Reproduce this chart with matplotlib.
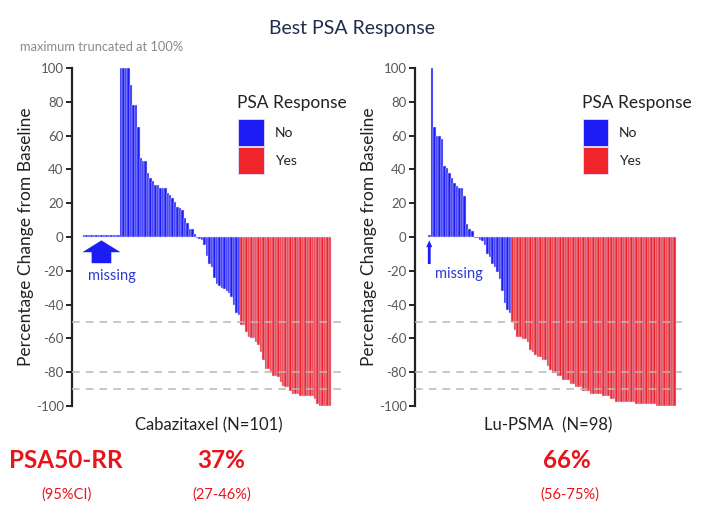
import numpy as np
from matplotlib import pyplot as plt
from matplotlib.patches import Rectangle

plt.rcParams['font.family'] = ['Lato', 'DejaVu Sans']
plt.rcParams['axes.unicode_minus'] = False

BLUE = '#1c1cf5'
RED = '#f0262a'
TICK_GREY = '#595959'
TXT_RED = '#e8141b'

# best PSA change (%) per patient, sorted as in the waterfall
cab_missing = [1.2] * 15
cab_no = [100, 100, 100, 100, 90, 78, 78, 65, 47, 45, 45, 38, 35, 33, 31, 30.5,
          29, 29, 29, 26, 25, 23, 21, 18, 17, 16, 11, 8, 5, 4.5, 2,
          -0.5, -1, -2, -5, -11, -16, -18, -24, -28, -29, -30, -31, -32, -33,
          -35.5, -40, -45, -46]
cab_yes = [-52, -52, -56, -59, -60, -60, -62, -64, -68, -73, -78, -78, -80,
           -82, -82, -83, -86, -88, -89, -89, -91, -93, -93, -93, -94, -94,
           -94, -94, -94, -94, -96, -99, -100, -100, -100, -100, -100]

lu_missing = [1.2]
lu_no = [100, 65, 60, 60, 58, 42, 41, 38, 35, 32, 30, 29, 29, 24, 7.5, 4.5, 3.5,
         -0.5, -0.5, -1.5, -2.5, -5, -10, -12, -16, -18, -21, -25, -32, -39,
         -43, -45]
lu_yes = ([-50.5, -55.3, -58.9, -58.9, -60.2, -60.2, -62, -67, -68, -70, -71,
           -71, -73, -73, -76.6, -78.6, -80.5, -80.5, -82, -82, -84.5, -84.5,
           -84.5, -86.9, -86.9, -89, -89, -89, -91.4, -91.4, -91.4]
          + [-92.8] * 5 + [-93.8] * 3 + [-95.8] * 2 + [-97.7] * 8
          + [-99] * 8 + [-100] * 8)

ref_lines = [-50, -80, -90]
yticks = list(range(-100, 101, 20))
legend_labels = ['No', 'Yes']

fig = plt.figure(figsize=(7.04, 5.14), dpi=100)


def waterfall(rect, missing, no, yes, xlim, xlabel, big_arrow, leg_x):
    ax = fig.add_axes(rect)
    vals = missing + no + yes
    cols = [BLUE] * (len(missing) + len(no)) + [RED] * len(yes)
    x = np.arange(len(vals))
    ax.bar(x, vals, width=1.0, color=cols, edgecolor='#dcdcff',
           linewidth=0.35, zorder=2)
    for v in ref_lines:
        ax.axhline(v, color='#b8b8b8', lw=1.1, ls=(0, (5, 4)), zorder=3)
    ax.set_xlim(*xlim)
    ax.set_ylim(-100, 100)
    ax.set_yticks(yticks)
    ax.set_xticks([])
    for s in ['top', 'right', 'bottom']:
        ax.spines[s].set_visible(False)
    ax.spines['left'].set_color('#222222')
    ax.spines['left'].set_linewidth(1.6)
    ax.tick_params(axis='y', direction='out', length=4, width=1.4,
                   color='#222222', labelcolor=TICK_GREY, labelsize=9.5, pad=2)
    ax.set_ylabel('Percentage Change from Baseline', fontsize=12.5,
                  color='#222222', labelpad=1)
    ax.set_xlabel(xlabel, fontsize=12, color='#222222', labelpad=8)

    # missing arrow
    mx = (len(missing) - 1) / 2.0
    if big_arrow:
        ax.arrow(mx, -15.5, 0, 13.5, width=8, head_width=15.5, head_length=7,
                 length_includes_head=True, color=BLUE, lw=0, zorder=4)
        ax.text(mx - 5.3, -23, 'missing', color='#2e3ad6', fontsize=10.5,
                ha='left', va='center')
    else:
        ax.arrow(mx, -16, 0, 14, width=1.1, head_width=2.4, head_length=4,
                 length_includes_head=True, color=BLUE, lw=0, zorder=4)
        ax.text(mx + 2.2, -22, 'missing', color='#2e3ad6', fontsize=10.5,
                ha='left', va='center')

    # legend block
    tr = ax.transAxes
    ax.text(leg_x - 0.004, 0.896, 'PSA Response', transform=tr, fontsize=12.5,
            color='#222222', ha='left', va='center')
    for i, (lab, c) in enumerate(zip(legend_labels, [BLUE, RED])):
        y0 = 0.769 - i * 0.083
        ax.add_patch(Rectangle((leg_x, y0), 0.096, 0.08, transform=tr,
                               facecolor=c, edgecolor='#e0e0ff', lw=0.6,
                               clip_on=False, zorder=5))
        ax.text(leg_x + 0.136, y0 + 0.04, lab, transform=tr, fontsize=10,
                color='#222222', ha='left', va='center')
    return ax


waterfall([0.1023, 0.2101, 0.388, 0.6576], cab_missing, cab_no, cab_yes,
          (-4.98, 106.2), 'Cabazitaxel (N=101)', True, 0.608)
waterfall([0.5895, 0.2101, 0.379, 0.6576], lu_missing, lu_no, lu_yes,
          (-5.64, 99.9), 'Lu-PSMA  (N=98)', False, 0.629)

fig.text(0.5, 0.944, 'Best PSA Response', ha='center', va='center',
         fontsize=14, color='#1f2d4d')
fig.text(0.029, 0.909, 'maximum truncated at 100%', ha='left', va='center',
         fontsize=9.3, color='#8a8a8a')

fig.text(0.093, 0.105, 'PSA50-RR', ha='center', va='center', fontsize=17.5,
         fontweight='bold', color=TXT_RED)
fig.text(0.094, 0.038, '(95%CI)', ha='center', va='center', fontsize=10.5,
         color=TXT_RED)
fig.text(0.314, 0.105, '37%', ha='center', va='center', fontsize=17.5,
         fontweight='bold', color=TXT_RED)
fig.text(0.315, 0.038, '(27-46%)', ha='center', va='center', fontsize=10.5,
         color=TXT_RED)
fig.text(0.805, 0.105, '66%', ha='center', va='center', fontsize=17.5,
         fontweight='bold', color=TXT_RED)
fig.text(0.81, 0.038, '(56-75%)', ha='center', va='center', fontsize=10.5,
         color=TXT_RED)

fig.savefig('out.png', dpi=100)
